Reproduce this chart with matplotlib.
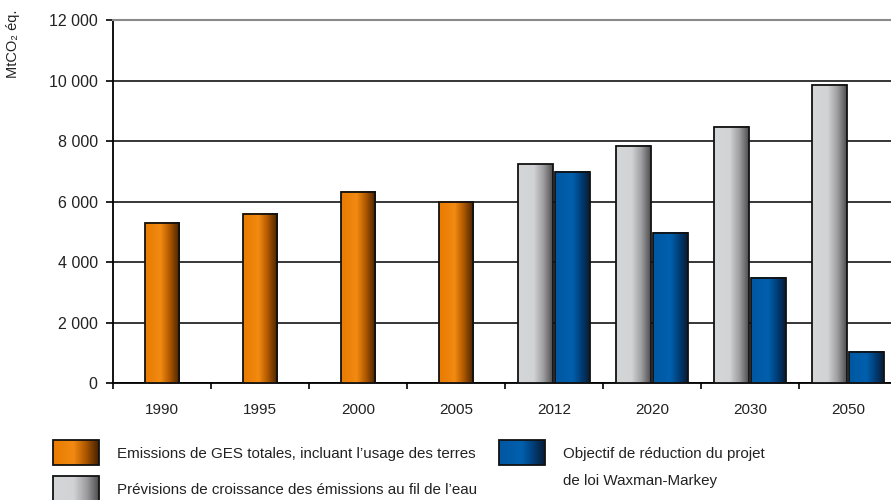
import numpy as np
import matplotlib
matplotlib.use("Agg")
import matplotlib.pyplot as plt
from matplotlib.colors import LinearSegmentedColormap
from matplotlib.patches import Rectangle

years = ["1990", "1995", "2000", "2005", "2012", "2020", "2030", "2050"]
historique = [5290, 5600, 6310, 5980]
tendance = [7230, 7850, 8470, 9860]
waxman = [6970, 4960, 3470, 1040]
yticks = [0, 2000, 4000, 6000, 8000, 10000, 12000]

labels_legende = [
    ["Emissions de GES totales, incluant l\u2019usage des terres"],
    ["Pr\u00e9visions de croissance des \u00e9missions au fil de l\u2019eau"],
    ["Objectif de r\u00e9duction du projet", "de loi Waxman-Markey"],
]

plt.rcParams["font.family"] = ["Liberation Sans", "DejaVu Sans"]
texte = "#222222"

cm_orange = LinearSegmentedColormap.from_list(
    "orange", [(0, "#E97B00"), (0.45, "#F28A12"), (0.7, "#B35A00"), (1, "#452200")])
cm_gris = LinearSegmentedColormap.from_list(
    "gris", [(0, "#D5D6D8"), (0.45, "#D2D3D5"), (0.75, "#9A9A9C"), (1, "#4E4E50")])
cm_bleu = LinearSegmentedColormap.from_list(
    "bleu", [(0, "#0057A2"), (0.5, "#0060AE"), (0.75, "#003E78"), (1, "#081C36")])
degrade = np.linspace(0, 1, 64).reshape(1, -1)

fig = plt.figure(figsize=(8.91, 5.0), dpi=100)
ax = fig.add_axes([113 / 891, 1 - 383.3 / 500, 1 - 113 / 891, (383.3 - 20) / 500])

largeur = 0.355
x_hist = np.arange(len(historique))
x_proj = np.arange(len(historique), len(years))


def barres(x, valeurs, cmap):
    rects = ax.bar(x, valeurs, width=largeur, facecolor="none",
                   edgecolor="#111111", linewidth=1.3, zorder=4)
    for r in rects:
        x0, w, h = r.get_x(), r.get_width(), r.get_height()
        ax.imshow(degrade, extent=[x0, x0 + w, 0, h], cmap=cmap,
                  aspect="auto", zorder=3, interpolation="bilinear")


barres(x_hist, historique, cm_orange)
barres(x_proj - largeur / 2 - 0.01, tendance, cm_gris)
barres(x_proj + largeur / 2 + 0.01, waxman, cm_bleu)

ax.set_xlim(-0.5, -0.5 + 778 / 98)
ax.set_ylim(0, 12000)
ax.set_yticks(yticks)
ax.set_yticklabels([f"{v:,}".replace(",", " ") for v in yticks])
ax.set_xticks(np.arange(len(years)) - 0.5)
ax.set_xticklabels([])
ax.set_xticks(np.arange(len(years)), minor=True)
ax.set_xticklabels(years, minor=True)
ax.tick_params(axis="x", which="minor", length=0, pad=14, labelsize=11, labelcolor=texte)
ax.tick_params(axis="x", which="major", length=4, width=1.2, color="black")
ax.tick_params(axis="y", length=5, width=1.2, pad=6, labelsize=11.5, labelcolor=texte)

ax.set_axisbelow(True)
ax.yaxis.grid(True, color="black", linewidth=1.1)
ax.spines["right"].set_visible(False)
ax.spines["top"].set_color("#8a8a8a")
ax.spines["top"].set_linewidth(1.5)
ax.spines["left"].set_linewidth(1.3)
ax.spines["bottom"].set_linewidth(1.3)

fig.text(13 / 891, 1 - 44 / 500, "MtCO\u2082 \u00e9q.", rotation=90,
         ha="center", va="center", fontsize=10.5, color=texte)

# légende dessinée à la main sous le graphique
leg = fig.add_axes([0, 0, 1, 1], zorder=5)
leg.set_xlim(0, 891)
leg.set_ylim(500, 0)
leg.axis("off")
cases = [(53, 440, cm_orange), (53, 476, cm_gris), (499, 440, cm_bleu)]
for (x0, y0, cmap), lignes in zip(cases, labels_legende):
    leg.imshow(degrade, extent=[x0, x0 + 46, y0 + 25, y0], cmap=cmap,
               aspect="auto", interpolation="bilinear")
    leg.add_patch(Rectangle((x0, y0), 46, 25, facecolor="none",
                            edgecolor="#111111", linewidth=1.3))
    for i, lab in enumerate(lignes):
        leg.text(x0 + 64, y0 + 14 + 27 * i, lab, ha="left", va="center",
                 fontsize=10.9, color=texte)
leg.set_xlim(0, 891)
leg.set_ylim(500, 0)

fig.savefig("out.png", dpi=100)
